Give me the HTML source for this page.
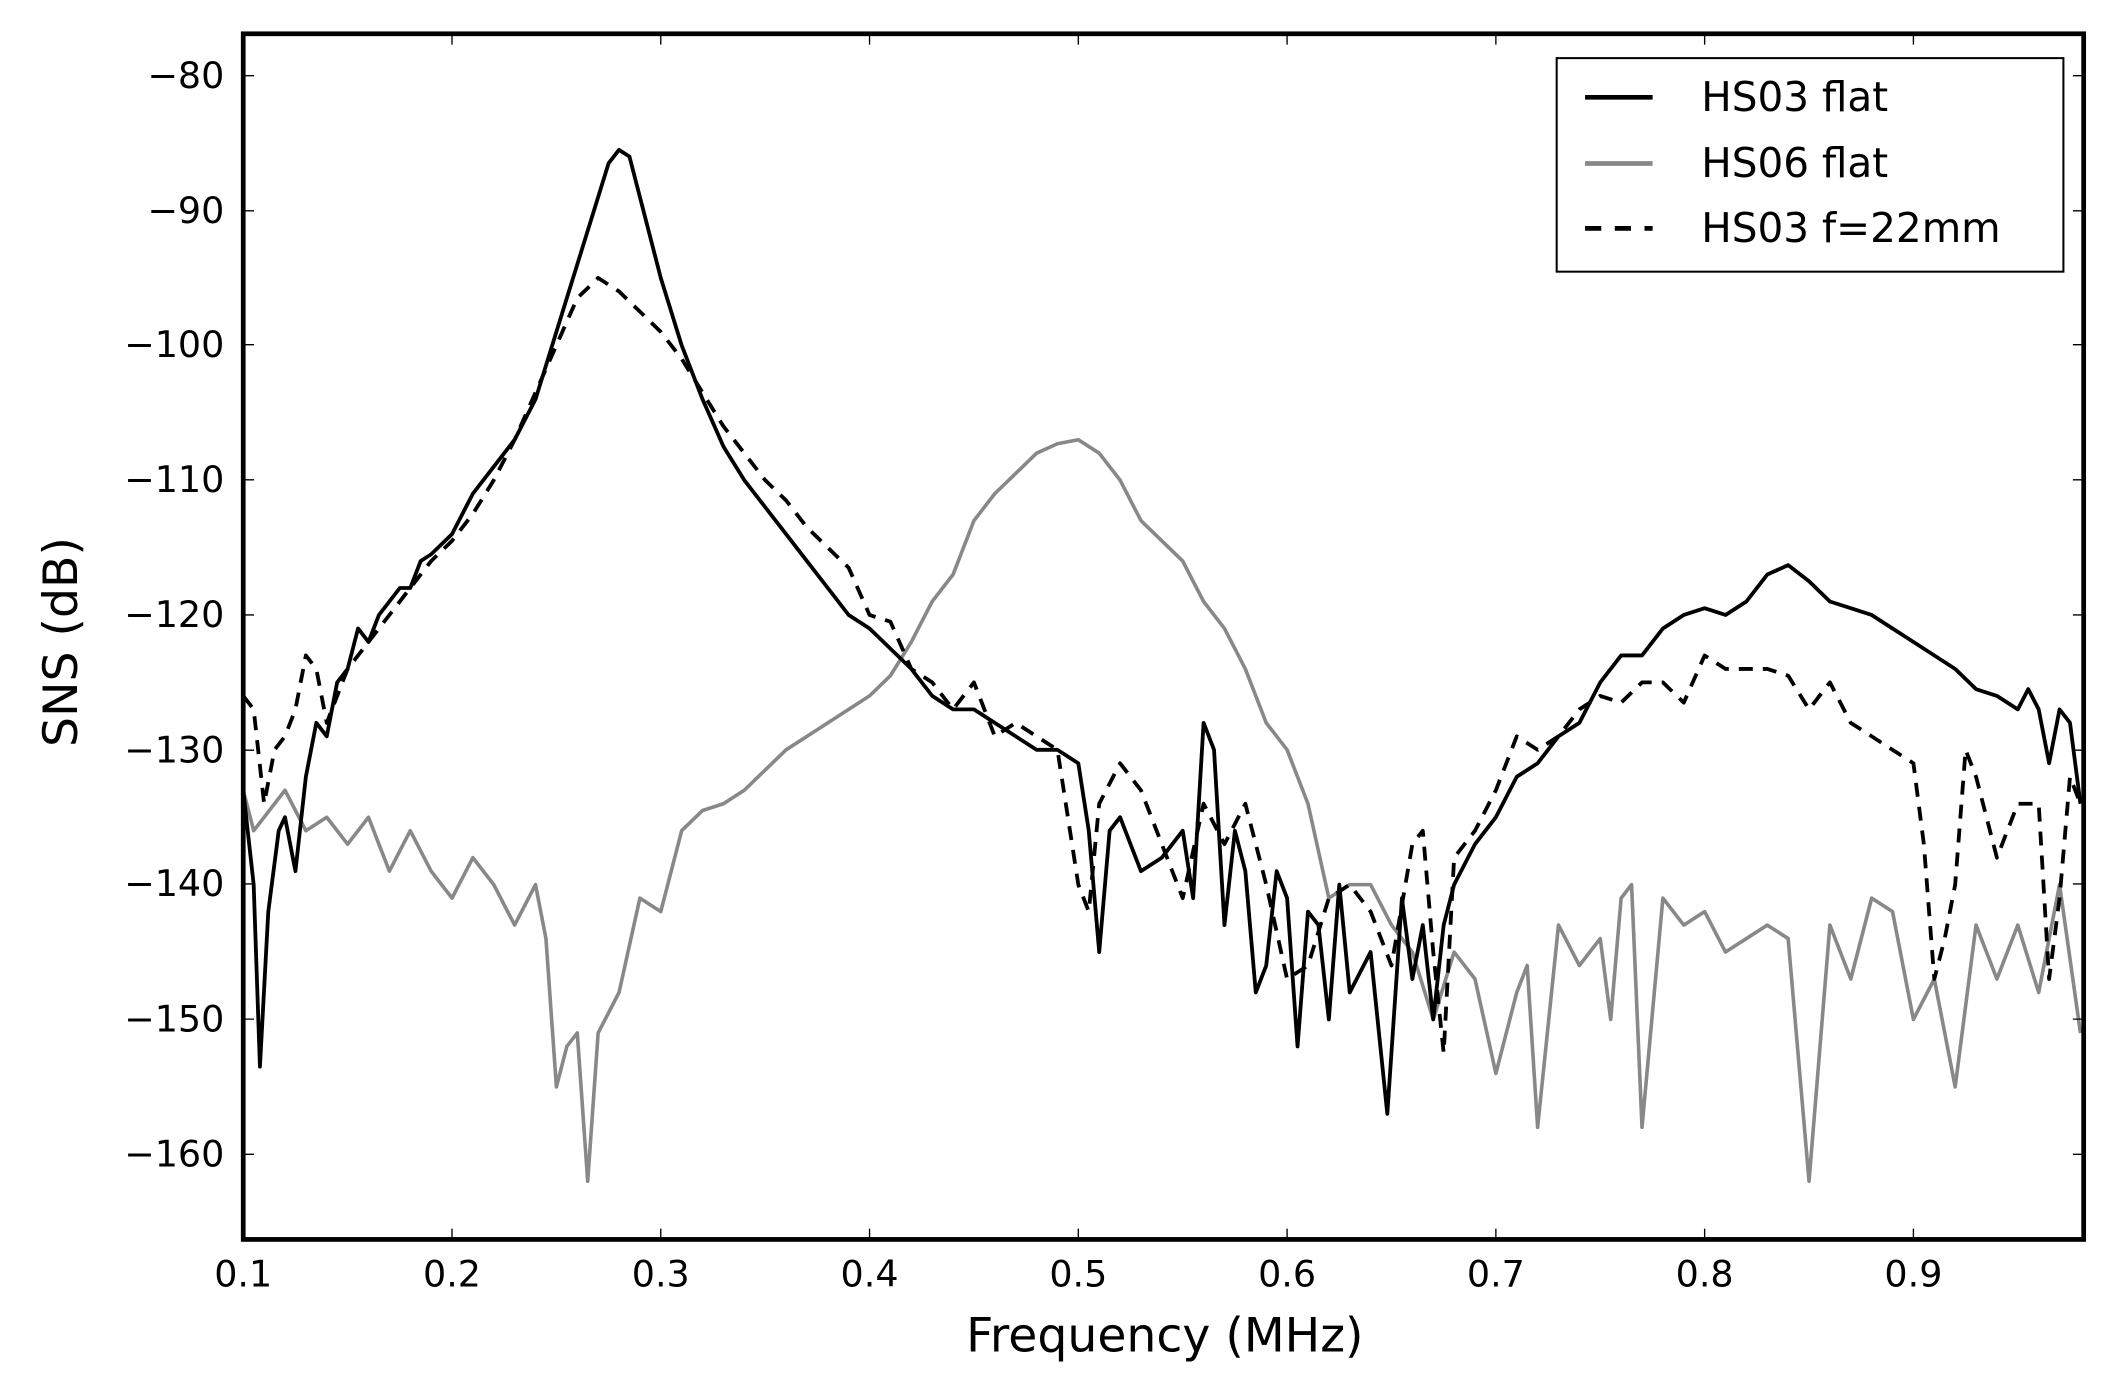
<!DOCTYPE html>
<html><head><meta charset="utf-8"><style>
html,body{margin:0;padding:0;background:#fff;}
svg{display:block;}
text{font-family:"DejaVu Sans","Liberation Sans",sans-serif;fill:#000;}
</style></head><body>
<svg width="2108" height="1380" viewBox="0 0 1560 1021" preserveAspectRatio="none" xmlns="http://www.w3.org/2000/svg">
<defs><clipPath id="c"><rect x="180" y="25" width="1362" height="892"/></clipPath></defs>
<rect width="1560" height="1021" fill="#fff"/>
<g clip-path="url(#c)">
<g transform="translate(180 56) scale(1545 -9.975) translate(-0.1 80)" fill="none" stroke-linejoin="round">
<polyline vector-effect="non-scaling-stroke" stroke="#888" stroke-width="3.6" points="0.1,-133 0.105,-136 0.11,-135 0.12,-133 0.13,-136 0.14,-135 0.15,-137 0.16,-135 0.17,-139 0.18,-136 0.19,-139 0.2,-141 0.21,-138 0.22,-140 0.23,-143 0.24,-140 0.245,-144 0.25,-155 0.255,-152 0.26,-151 0.265,-162 0.27,-151 0.28,-148 0.29,-141 0.3,-142 0.31,-136 0.32,-134.5 0.33,-134 0.34,-133 0.35,-131.5 0.36,-130 0.37,-129 0.38,-128 0.39,-127 0.4,-126 0.41,-124.5 0.42,-122 0.43,-119 0.44,-117 0.45,-113 0.46,-111 0.47,-109.5 0.48,-108 0.49,-107.3 0.5,-107 0.51,-108 0.52,-110 0.53,-113 0.54,-114.5 0.55,-116 0.56,-119 0.57,-121 0.58,-124 0.59,-128 0.6,-130 0.61,-134 0.62,-141 0.63,-140 0.64,-140 0.65,-143 0.66,-145 0.67,-150 0.68,-145 0.69,-147 0.7,-154 0.71,-148 0.715,-146 0.72,-158 0.73,-143 0.74,-146 0.75,-144 0.755,-150 0.76,-141 0.765,-140 0.77,-158 0.78,-141 0.79,-143 0.8,-142 0.81,-145 0.82,-144 0.83,-143 0.84,-144 0.85,-162 0.86,-143 0.87,-147 0.88,-141 0.89,-142 0.9,-150 0.91,-147 0.92,-155 0.93,-143 0.94,-147 0.95,-143 0.96,-148 0.97,-140 0.98,-151"/>
<polyline vector-effect="non-scaling-stroke" stroke="#000" stroke-width="3.8" stroke-dasharray="14,10" points="0.1,-126 0.105,-127 0.11,-134 0.115,-130 0.12,-129 0.125,-127 0.13,-123 0.135,-124 0.14,-128 0.145,-126 0.15,-124 0.16,-122 0.17,-120 0.18,-118 0.19,-116 0.2,-114.5 0.21,-112.5 0.22,-110 0.23,-107 0.24,-103.5 0.25,-100 0.26,-96.5 0.27,-95 0.28,-96 0.29,-97.5 0.3,-99 0.31,-101 0.32,-103.5 0.33,-106 0.34,-108 0.35,-110 0.36,-111.5 0.37,-113.5 0.38,-115 0.39,-116.5 0.4,-120 0.41,-120.5 0.42,-124 0.43,-125 0.44,-127 0.45,-125 0.46,-129 0.47,-128 0.48,-129 0.49,-130 0.5,-140 0.505,-142 0.51,-134 0.52,-131 0.53,-133 0.54,-137 0.55,-141 0.56,-134 0.57,-137 0.58,-134 0.59,-140 0.6,-147 0.61,-146 0.62,-141 0.63,-140 0.64,-142 0.65,-146 0.66,-137 0.665,-136 0.67,-145 0.675,-152.5 0.68,-138 0.69,-136 0.7,-133 0.71,-129 0.72,-130 0.73,-129 0.74,-127 0.75,-126 0.76,-126.5 0.77,-125 0.78,-125 0.79,-126.5 0.8,-123 0.81,-124 0.82,-124 0.83,-124 0.84,-124.5 0.85,-127 0.86,-125 0.87,-128 0.88,-129 0.89,-130 0.9,-131 0.905,-137 0.91,-147 0.915,-144 0.92,-140 0.925,-130 0.93,-132 0.94,-138 0.95,-134 0.96,-134 0.965,-147 0.97,-141 0.975,-132 0.98,-134"/>
<polyline vector-effect="non-scaling-stroke" stroke="#000" stroke-width="3.8" points="0.1,-133 0.105,-140 0.108,-153.5 0.112,-142 0.117,-136 0.12,-135 0.125,-139 0.13,-132 0.135,-128 0.14,-129 0.145,-125 0.15,-124 0.155,-121 0.16,-122 0.165,-120 0.17,-119 0.175,-118 0.18,-118 0.185,-116 0.19,-115.5 0.2,-114 0.21,-111 0.22,-109 0.23,-107 0.24,-104 0.25,-99 0.26,-94 0.27,-89 0.275,-86.5 0.28,-85.5 0.285,-86 0.29,-89 0.3,-95 0.31,-100 0.32,-104 0.33,-107.5 0.34,-110 0.35,-112 0.36,-114 0.37,-116 0.38,-118 0.39,-120 0.4,-121 0.41,-122.5 0.42,-124 0.43,-126 0.44,-127 0.45,-127 0.46,-128 0.47,-129 0.48,-130 0.49,-130 0.5,-131 0.505,-136 0.51,-145 0.515,-136 0.52,-135 0.53,-139 0.54,-138 0.55,-136 0.555,-141 0.56,-128 0.565,-130 0.57,-143 0.575,-136 0.58,-139 0.585,-148 0.59,-146 0.595,-139 0.6,-141 0.605,-152 0.61,-142 0.615,-143 0.62,-150 0.625,-140 0.63,-148 0.64,-145 0.648,-157 0.655,-141 0.66,-147 0.665,-143 0.67,-150 0.675,-143 0.68,-140 0.69,-137 0.7,-135 0.71,-132 0.72,-131 0.73,-129 0.74,-128 0.75,-125 0.76,-123 0.77,-123 0.78,-121 0.79,-120 0.8,-119.5 0.81,-120 0.82,-119 0.83,-117 0.84,-116.3 0.85,-117.5 0.86,-119 0.87,-119.5 0.88,-120 0.89,-121 0.9,-122 0.91,-123 0.92,-124 0.93,-125.5 0.94,-126 0.95,-127 0.955,-125.5 0.96,-127 0.965,-131 0.97,-127 0.975,-128 0.98,-134"/>
</g>
</g>
<g stroke="#000" stroke-width="1">
<path d="M180,56h8M180,156h8M180,255h8M180,355h8M180,455h8M180,555h8M180,654h8M180,754h8M180,854h8"/>
<path d="M1542,56h-8M1542,156h-8M1542,255h-8M1542,355h-8M1542,455h-8M1542,555h-8M1542,654h-8M1542,754h-8M1542,854h-8"/>
<path d="M180,917v-8M334.5,917v-8M489,917v-8M643.5,917v-8M798,917v-8M952.5,917v-8M1107,917v-8M1261.5,917v-8M1416,917v-8"/>
<path d="M180,25v8M334.5,25v8M489,25v8M643.5,25v8M798,25v8M952.5,25v8M1107,25v8M1261.5,25v8M1416,25v8"/>
</g>
<rect x="180" y="25" width="1362" height="892" fill="none" stroke="#000" stroke-width="3.5"/>
<g font-size="27" text-anchor="end">
<text x="166" y="65">−80</text><text x="166" y="165">−90</text><text x="166" y="264">−100</text><text x="166" y="364">−110</text><text x="166" y="464">−120</text><text x="166" y="564">−130</text><text x="166" y="663">−140</text><text x="166" y="763">−150</text><text x="166" y="863">−160</text>
</g>
<g font-size="27" text-anchor="middle">
<text x="180" y="952">0.1</text><text x="334.5" y="952">0.2</text><text x="489" y="952">0.3</text><text x="643.5" y="952">0.4</text><text x="798" y="952">0.5</text><text x="952.5" y="952">0.6</text><text x="1107" y="952">0.7</text><text x="1261.5" y="952">0.8</text><text x="1416" y="952">0.9</text>
</g>
<text x="862" y="1000" font-size="35" text-anchor="middle">Frequency (MHz)</text>
<text transform="translate(57 475) rotate(-90)" font-size="35" text-anchor="middle">SNS (dB)</text>
<rect x="1152" y="43" width="375" height="158" fill="#fff" stroke="#000" stroke-width="1.5"/>
<path d="M1173,72h50" stroke="#000" stroke-width="3.5"/>
<path d="M1173,121h50" stroke="#888" stroke-width="3.5"/>
<path d="M1173,169h50" stroke="#000" stroke-width="3.5" stroke-dasharray="12,10"/>
<g font-size="30"><text x="1259" y="82">HS03 flat</text><text x="1259" y="131">HS06 flat</text><text x="1259" y="179">HS03 f=22mm</text></g>
</svg>
</body></html>
